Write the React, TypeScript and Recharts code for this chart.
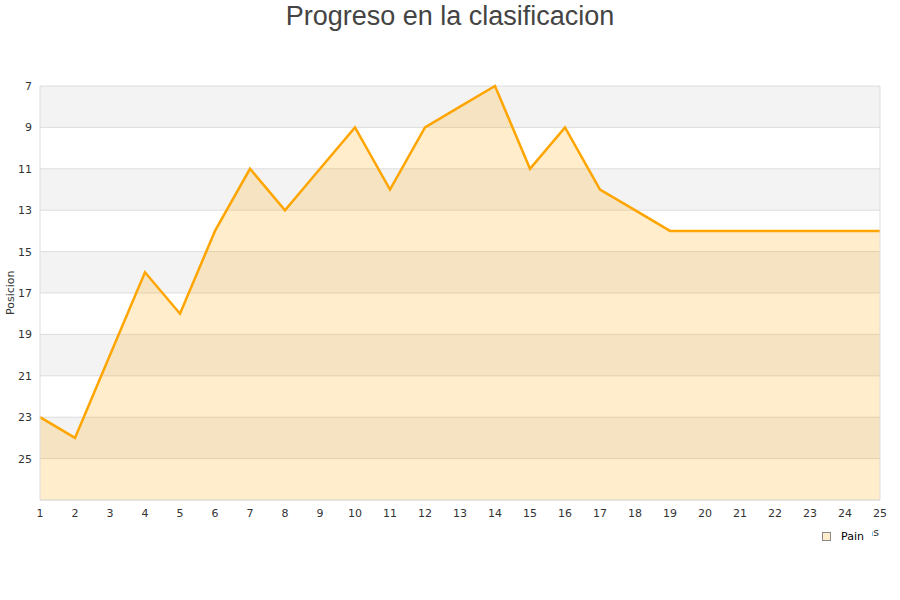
import { Area, AreaChart, CartesianGrid, Legend, ReferenceLine, XAxis, YAxis } from "recharts";

// jornada number -> league position (lower is better, so the y axis is reversed)
const JORNADAS = [1, 2, 3, 4, 5, 6, 7, 8, 9, 10, 11, 12, 13, 14, 15, 16, 17, 18, 19, 20, 21, 22, 23, 24, 25];
const POSICION = [23, 24, 20, 16, 18, 14, 11, 13, 11, 9, 12, 9, 8, 7, 11, 9, 12, 13, 14, 14, 14, 14, 14, 14, 14];
const Y_TICKS = [7, 9, 11, 13, 15, 17, 19, 21, 23, 25];
const SERIES_NAME = "Pain";

const ORANGE = "#ffa500";
const GRID = "#dddddd";
const FONT = "'DejaVu Sans', Verdana, sans-serif";

const data = JORNADAS.map((j, i) => ({ jornada: j, posicion: POSICION[i] }));

function LegendBox() {
  return (
    <div style={{ display: "flex", alignItems: "center", gap: 10, background: "#fff", fontFamily: FONT, fontSize: 11, color: "#000", height: 16 }}>
      <span
        style={{
          display: "inline-block",
          width: 7,
          height: 7,
          background: "#ffedcc",
          border: "1px solid #888",
        }}
      />
      <span>{SERIES_NAME}</span>
    </div>
  );
}

export default function App() {
  return (
    <div style={{ position: "absolute", left: 0, top: 0, width: 900, height: 600, background: "#fff" }}>
      <div
        style={{
          position: "absolute",
          top: 0,
          width: 900,
          textAlign: "center",
          fontFamily: "'Liberation Sans', Arial, sans-serif",
          fontSize: 27,
          color: "#444",
          lineHeight: "32px",
        }}
      >
        Progreso en la clasificacion
      </div>
      <AreaChart width={900} height={600} data={data} margin={{ top: 86, right: 20, bottom: 44, left: 0 }}>
        <CartesianGrid
          vertical={false}
          stroke={GRID}
          horizontalFill={["#f3f3f3", "#ffffff"]}
          fillOpacity={1}
        />
        <XAxis
          dataKey="jornada"
          type="number"
          domain={[1, 25]}
          ticks={JORNADAS}
          interval={0}
          tickSize={0}
          tickMargin={9}
          height={40}
          axisLine={{ stroke: GRID }}
          tick={{ fontSize: 11, fill: "#333", fontFamily: FONT }}
          label={{ value: "Jornadas", position: "insideBottomRight", offset: 3, dx: 2, dy: -1, fontSize: 11, fill: "#333", fontFamily: FONT }}
        />
        <YAxis
          type="number"
          domain={[7, 27]}
          reversed
          ticks={Y_TICKS}
          interval={0}
          width={40}
          tickSize={0}
          tickMargin={8}
          axisLine={{ stroke: GRID }}
          tick={{ fontSize: 11, fill: "#333", fontFamily: FONT }}
          label={{ value: "Posicion", angle: -90, position: "insideLeft", offset: 10, fontSize: 11, fill: "#333", fontFamily: FONT, dy: 22 }}
        />
        <ReferenceLine x={25} stroke={GRID} />
        <Legend
          content={() => <LegendBox />}
          wrapperStyle={{ position: "absolute", left: 814, top: 528, width: 50, height: 16, paddingLeft: 8, background: "#fff" }}
        />
        <Area
          type="linear"
          dataKey="posicion"
          name={SERIES_NAME}
          stroke={ORANGE}
          strokeWidth={2.5}
          fill={ORANGE}
          fillOpacity={0.2}
          baseValue="dataMax"
          dot={false}
          activeDot={false}
          isAnimationActive={false}
        />
      </AreaChart>
    </div>
  );
}
